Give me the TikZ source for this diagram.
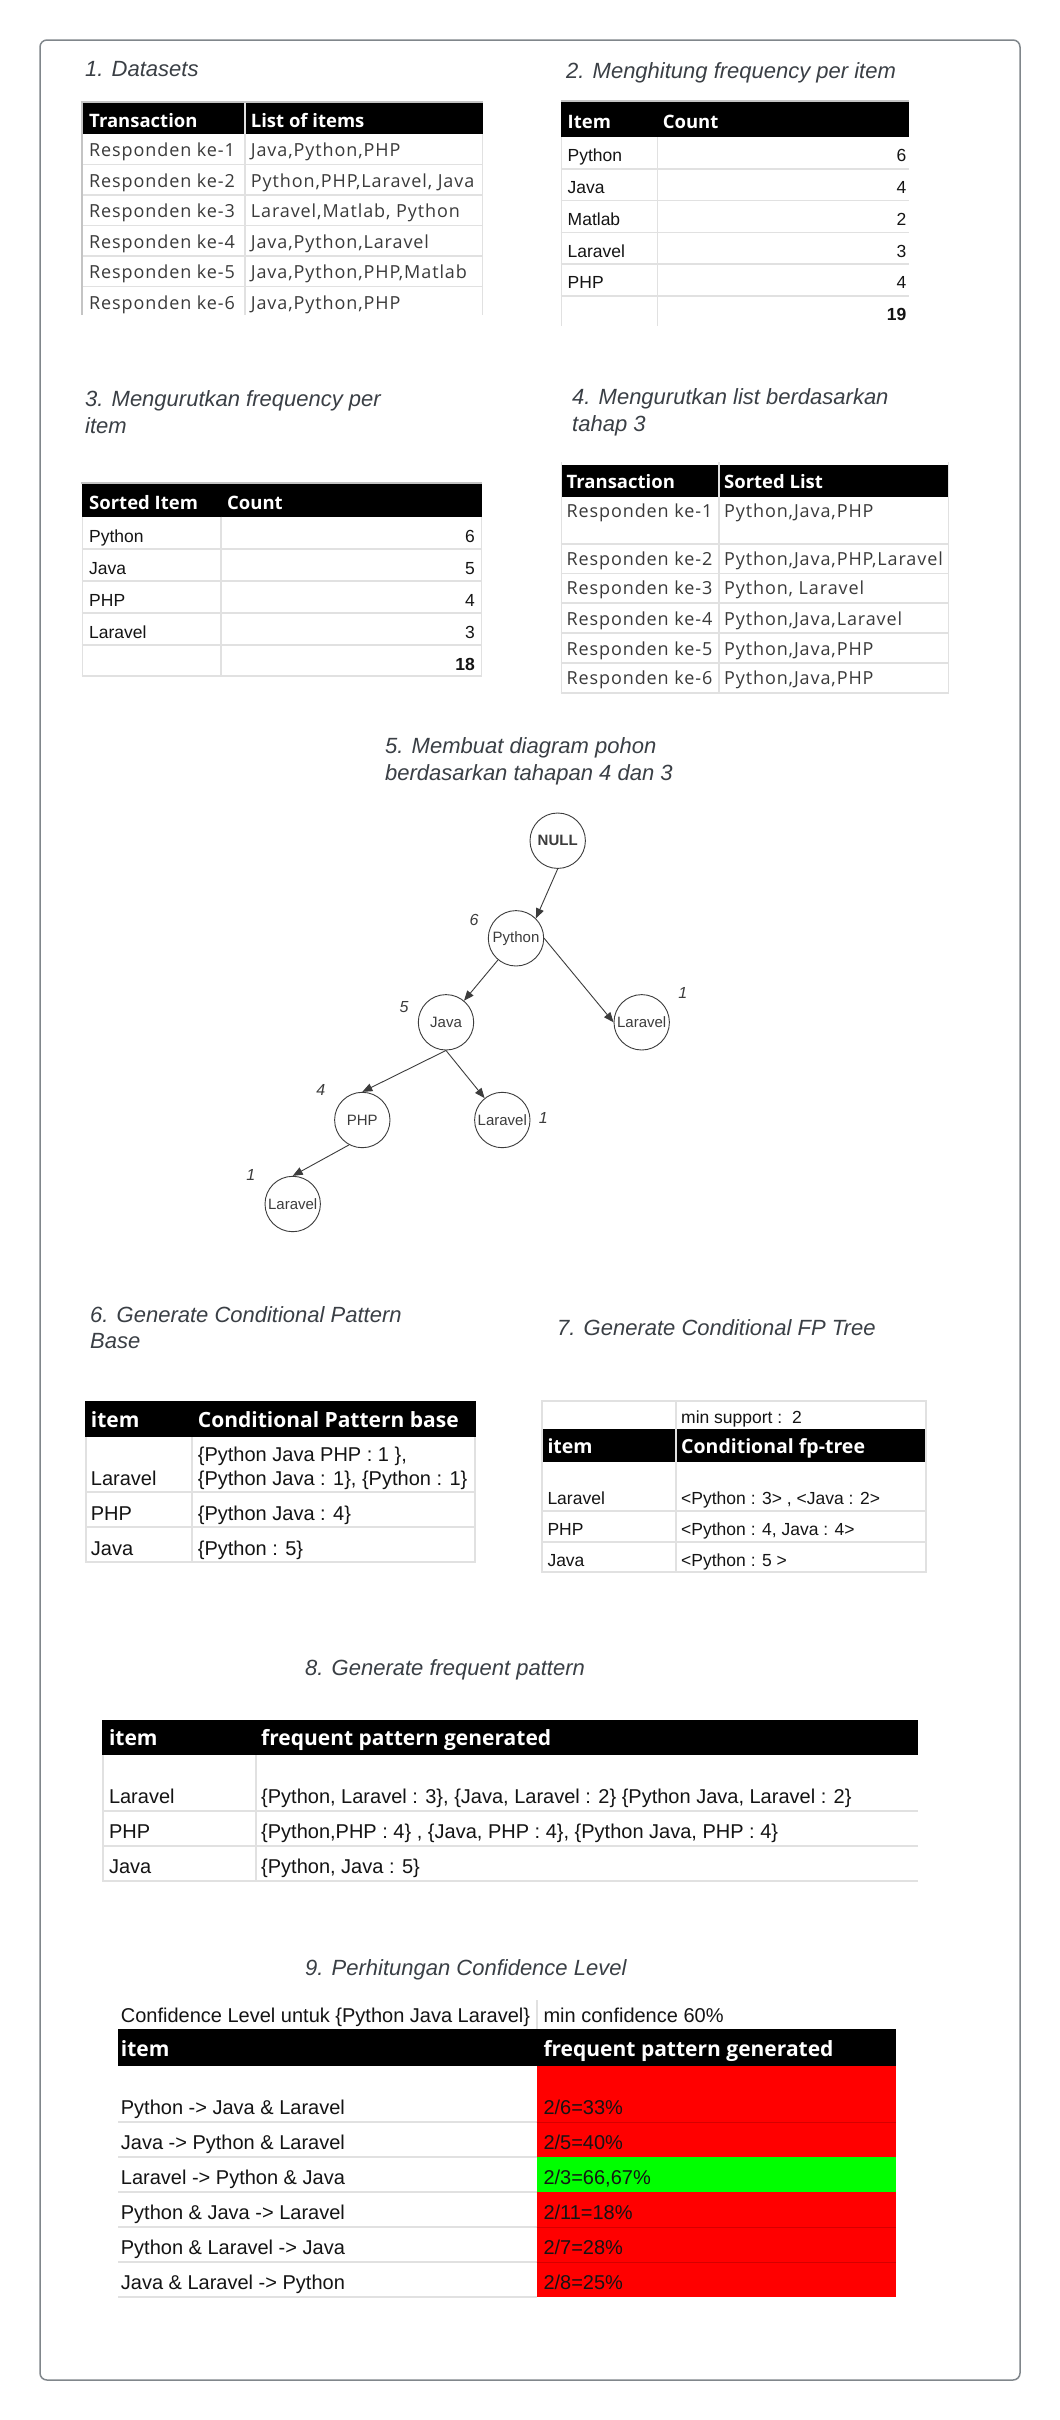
\documentclass[tikz,border=0pt]{standalone}
\usepackage{fontspec}
\setmainfont{Liberation Sans}
\newfontfamily\osans{Open Sans}
\newfontfamily\wsfont[LetterSpace=5]{Open Sans}
\usetikzlibrary{arrows.meta}
\definecolor{ttlc}{HTML}{3A3F45}
\definecolor{gridc}{HTML}{E1E1E1}
\definecolor{edgec}{HTML}{C4C4C4}
\definecolor{framec}{HTML}{80868B}
\definecolor{wsc}{HTML}{3A3A3A}
\definecolor{redc}{HTML}{FF0000}
\definecolor{grnc}{HTML}{00FF00}
\definecolor{redline}{HTML}{D50000}
\definecolor{treec}{HTML}{3C3C3C}
\tikzset{
  ttl/.style={anchor=base west, inner sep=0pt, text=ttlc, font=\fontsize{22}{27}\selectfont\itshape},
  ar/.style={anchor=base west, inner sep=0pt, text=black!92, font=\fontsize{17.5}{20}\selectfont},
  arb/.style={anchor=base west, inner sep=0pt, text=black!92, font=\fontsize{20}{23}\selectfont},
  num/.style={anchor=base east, inner sep=0pt, text=black!92, font=\fontsize{17.5}{20}\selectfont},
  ws/.style={anchor=base west, inner sep=0pt, text=wsc, font=\wsfont\fontsize{18}{20}\selectfont},
  hd/.style={anchor=base west, inner sep=0pt, text=white, font=\osans\bfseries\fontsize{18.5}{20}\selectfont},
  hdl/.style={anchor=base west, inner sep=0pt, text=white, font=\osans\bfseries\fontsize{21}{23}\selectfont},
  gridln/.style={draw=gridc, line width=1.6pt},
  edgeln/.style={draw=edgec, line width=2pt},
  tnode/.style={circle, draw=treec, line width=0.9pt, minimum size=55.4pt, inner sep=0pt, text=treec, font=\fontsize{15}{17}\selectfont},
  tlab/.style={inner sep=0pt, text=treec, font=\fontsize{16}{18}\selectfont\itshape},
  tedge/.style={draw=treec, line width=0.9pt, -{Triangle[length=10pt,width=8pt]}},
}
\begin{document}
\begin{tikzpicture}[x=1pt,y=-1pt]
\useasboundingbox (0,0) rectangle (1060,2420);
\fill[white] (0,0) rectangle (1060,2420);
\draw[framec, line width=1.5pt, rounded corners=7pt] (40,40) rectangle (1020,2380);

% ---------- titles
\node[ttl] (t1) at (85,76.5) {1. Datasets};
\node[ttl] (t2) at (566,78) {2. Menghitung frequency per item};
\node[ttl] (t3a) at (85,406) {3. Mengurutkan frequency per};
\node[ttl] (t3b) at (85,433) {item};
\node[ttl] (t4a) at (572,404) {4. Mengurutkan list berdasarkan};
\node[ttl] (t4b) at (572,431) {tahap 3};
\node[ttl] (t5a) at (385,753) {5. Membuat diagram pohon};
\node[ttl] (t5b) at (385,780) {berdasarkan tahapan 4 dan 3};
\node[ttl] (t6a) at (90,1322) {6. Generate Conditional Pattern};
\node[ttl] (t6b) at (90,1348) {Base};
\node[ttl] (t7) at (557,1335) {7. Generate Conditional FP Tree};
\node[ttl] (t8) at (305,1675) {8. Generate frequent pattern};
\node[ttl] (t9) at (305,1975) {9. Perhitungan Confidence Level};

% ---------- table 1
\fill[black] (81.6,103) rectangle (483,134);
\draw[edgeln] (80.6,102) -- (483,102);
\foreach \y in {164.5,195,225.5,256,286.5} \draw[gridln] (81.6,\y) -- (483,\y);
\draw[gridln] (245,103) -- (245,315);
\draw[gridln] (482.5,134) -- (482.5,315);
\draw[edgeln] (81.6,102) -- (81.6,315);
\node[hd] (a0) at (89,127.5) {Transaction};
\node[hd] (b0) at (250.7,127.5) {List of items};
\node[ws] (a1) at (89,156.5) {Responden ke-1};
\node[ws] (b1) at (250.7,156.5) {Java,Python,PHP};
\node[ws] (a2) at (89,187) {Responden ke-2};
\node[ws] (b2) at (250.7,187) {Python,PHP,Laravel, Java};
\node[ws] (a3) at (89,217.5) {Responden ke-3};
\node[ws] (b3) at (250.7,217.5) {Laravel,Matlab, Python};
\node[ws] (a4) at (89,248) {Responden ke-4};
\node[ws] (b4) at (250.7,248) {Java,Python,Laravel};
\node[ws] (a5) at (89,278.5) {Responden ke-5};
\node[ws] (b5) at (250.7,278.5) {Java,Python,PHP,Matlab};
\node[ws] (a6) at (89,309) {Responden ke-6};
\node[ws] (b6) at (250.7,309) {Java,Python,PHP};

% ---------- table 2
\fill[black] (560.6,102) rectangle (909,137);
\draw[edgeln] (560.6,101) -- (909,101);
\foreach \y in {168.7,200.5,232.3,264,296} \draw[gridln] (560.6,\y) -- (909,\y);
\draw[gridln] (657.5,137) -- (657.5,326);
\draw[gridln] (561.4,137) -- (561.4,326);
\node[hd] (c0) at (567.5,128.6) {Item};
\node[hd] (d0) at (662.6,128.6) {Count};
\node[ar] (c1) at (567.5,161.6) {Python};
\node[num] (d1) at (906.5,161.6) {6};
\node[ar] (c2) at (567.5,193.3) {Java};
\node[num] (d2) at (906.5,193.3) {4};
\node[ar] (c3) at (567.5,225) {Matlab};
\node[num] (d3) at (906.5,225) {2};
\node[ar] (c4) at (567.5,257) {Laravel};
\node[num] (d4) at (906.5,257) {3};
\node[ar] (c5) at (567.5,288.6) {PHP};
\node[num] (d5) at (906.5,288.6) {4};
\node[num, font=\fontsize{17.5}{20}\selectfont\bfseries] (d6) at (906.5,320.6) {19};

% ---------- table 3
\fill[black] (81.6,484) rectangle (482,516.5);
\draw[edgeln] (80.6,483) -- (482,483);
\foreach \y in {548.7,581,613,645,676} \draw[gridln] (81.6,\y) -- (482,\y);
\draw[gridln] (221,516.5) -- (221,676);
\draw[gridln] (481.5,516.5) -- (481.5,676);
\draw[gridln] (82.4,516.5) -- (82.4,676);
\node[hd] (e0) at (89,509) {Sorted Item};
\node[hd] (f0) at (227,509) {Count};
\node[ar] (e1) at (89,542) {Python};
\node[num] (f1) at (475,542) {6};
\node[ar] (e2) at (89,574.2) {Java};
\node[num] (f2) at (475,574.2) {5};
\node[ar] (e3) at (89,606.5) {PHP};
\node[num] (f3) at (475,606.5) {4};
\node[ar] (e4) at (89,638.5) {Laravel};
\node[num] (f4) at (475,638.5) {3};
\node[num, font=\fontsize{17.5}{20}\selectfont\bfseries] (f5) at (475,670.5) {18};

% ---------- table 4
\fill[black] (560.6,465.4) rectangle (949,496.7);
\foreach \y in {543.7,573.6,603,633,662.7,693} \draw[gridln] (560.6,\y) -- (949,\y);
\draw[gridln] (718.8,462) -- (718.8,693);
\draw[gridln] (948.5,462) -- (948.5,693);
\draw[gridln] (561.4,462) -- (561.4,693);
\node[hd] (g0) at (566.4,488.6) {Transaction};
\node[hd] (h0) at (723.9,488.6) {Sorted List};
\node[ws] (g1) at (566.4,517.5) {Responden ke-1};
\node[ws] (h1) at (723.9,517.5) {Python,Java,PHP};
\node[ws] (g2) at (566.4,565) {Responden ke-2};
\node[ws] (h2) at (723.9,565) {Python,Java,PHP,Laravel};
\node[ws] (g3) at (566.4,594.7) {Responden ke-3};
\node[ws] (h3) at (723.9,594.7) {Python, Laravel};
\node[ws] (g4) at (566.4,625) {Responden ke-4};
\node[ws] (h4) at (723.9,625) {Python,Java,Laravel};
\node[ws] (g5) at (566.4,655) {Responden ke-5};
\node[ws] (h5) at (723.9,655) {Python,Java,PHP};
\node[ws] (g6) at (566.4,684.8) {Responden ke-6};
\node[ws] (h6) at (723.9,684.8) {Python,Java,PHP};

% ---------- tree
\node[tnode, font=\fontsize{15}{17}\selectfont\bfseries] (null) at (557.7,840.7) {NULL};
\node[tnode] (py) at (516,938.3) {Python};
\node[tnode] (lr) at (641.7,1022.3) {Laravel};
\node[tnode] (jv) at (446,1022.3) {Java};
\node[tnode] (php) at (362.3,1120) {PHP};
\node[tnode] (lm) at (502.3,1120) {Laravel};
\node[tnode] (lb) at (292.7,1204) {Laravel};
\node[tlab] (n6) at (474,920) {6};
\node[tlab] (n1a) at (682.7,993) {1};
\node[tlab] (n5) at (404,1007) {5};
\node[tlab] (n4) at (320.7,1090) {4};
\node[tlab] (n1b) at (543.3,1118) {1};
\node[tlab] (n1c) at (250.7,1175) {1};
\draw[tedge] (null.south) -- (py.45);
\draw[tedge] (py) -- (jv);
\draw[tedge] (py.east) -- (lr.west);
\draw[tedge] (jv.south) -- (php.north);
\draw[tedge] (jv.south) -- (lm);
\draw[tedge] (php.242) -- (lb.north);

% ---------- table 6
\fill[black] (85,1401) rectangle (476,1437);
\foreach \y in {1492,1527,1562} \draw[gridln] (85,\y) -- (476,\y);
\draw[gridln] (192,1437) -- (192,1562);
\draw[gridln] (85.8,1437) -- (85.8,1562);
\draw[gridln] (475.2,1437) -- (475.2,1562);
\node[hdl] (i0) at (90.7,1427.3) {item};
\node[hdl] (j0) at (197.7,1427.3) {Conditional Pattern base};
\node[arb] (i1) at (90.7,1485) {Laravel};
\node[arb] (j1a) at (197.7,1461.7) {\{Python Java PHP : 1 \},};
\node[arb] (j1b) at (197.7,1485) {\{Python Java : 1\}, \{Python : 1\}};
\node[arb] (i2) at (90.7,1520) {PHP};
\node[arb] (j2) at (197.7,1520) {\{Python Java : 4\}};
\node[arb] (i3) at (90.7,1555.7) {Java};
\node[arb] (j3) at (197.7,1555.7) {\{Python : 5\}};

% ---------- table 7
\fill[black] (541,1429) rectangle (927,1462);
\draw[gridln] (541,1401) -- (927,1401);
\foreach \y in {1511,1542,1572} \draw[gridln] (541,\y) -- (927,\y);
\draw[gridln] (676,1401) -- (676,1572);
\draw[gridln] (541.8,1401) -- (541.8,1572);
\draw[gridln] (926.2,1401) -- (926.2,1572);
\node[ar] (k0) at (681,1423.3) {min support :\ \ 2};
\node[hdl, font=\osans\bfseries\fontsize{19.5}{22}\selectfont] (l0) at (547.3,1453.3) {item};
\node[hdl, font=\osans\bfseries\fontsize{19.5}{22}\selectfont] (m0) at (681,1453.3) {Conditional fp-tree};
\node[ar] (l1) at (547.3,1504) {Laravel};
\node[ar] (m1) at (681,1504) {<Python : 3> , <Java : 2>};
\node[ar] (l2) at (547.3,1535) {PHP};
\node[ar] (m2) at (681,1535) {<Python : 4, Java : 4>};
\node[ar] (l3) at (547.3,1566) {Java};
\node[ar] (m3) at (681,1566) {<Python : 5 >};

% ---------- table 8
\fill[black] (102,1720) rectangle (918,1755);
\foreach \y in {1811,1846,1881} \draw[gridln] (102,\y) -- (918,\y);
\draw[gridln] (256,1755) -- (256,1881);
\draw[gridln] (102.8,1755) -- (102.8,1881);
\node[hdl] (o0) at (108.8,1745) {item};
\node[hdl] (p0) at (261,1745) {frequent pattern generated};
\node[arb] (o1) at (108.8,1803) {Laravel};
\node[arb] (p1) at (261,1803) {\{Python, Laravel : 3\}, \{Java, Laravel : 2\} \{Python Java, Laravel : 2\}};
\node[arb] (o2) at (108.8,1838) {PHP};
\node[arb] (p2) at (261,1838) {\{Python,PHP : 4\} , \{Java, PHP : 4\}, \{Python Java, PHP : 4\}};
\node[arb] (o3) at (108.8,1873) {Java};
\node[arb] (p3) at (261,1873) {\{Python, Java : 5\}};

% ---------- table 9
\fill[black] (118,2029) rectangle (896,2066);
\fill[redc] (536.7,2066) rectangle (896,2297);
\fill[grnc] (536.7,2157) rectangle (896,2192);
\foreach \y in {2122,2157,2192,2227,2262,2297} \draw[gridln] (118,\y) -- (536.7,\y);
\foreach \y in {2122,2227,2262} \draw[redline, line width=1pt] (536.7,\y) -- (896,\y);
\draw[gridln] (536.7,2000) -- (536.7,2029);
\node[arb] (q0) at (120.7,2022.7) {Confidence Level untuk \{Python Java Laravel\}};
\node[arb] (r0) at (543.3,2022.7) {min confidence 60\%};
\node[hdl] (q1) at (120.7,2056.7) {item};
\node[hdl] (r1) at (543.3,2056.7) {frequent pattern generated};
\node[arb] (q2) at (120.7,2114) {Python -> Java \& Laravel};
\node[arb] (r2) at (543.3,2114) {2/6=33\%};
\node[arb] (q3) at (120.7,2149) {Java -> Python \& Laravel};
\node[arb] (r3) at (543.3,2149) {2/5=40\%};
\node[arb] (q4) at (120.7,2184) {Laravel -> Python \& Java};
\node[arb] (r4) at (543.3,2184) {2/3=66,67\%};
\node[arb] (q5) at (120.7,2219) {Python \& Java -> Laravel};
\node[arb] (r5) at (543.3,2219) {2/11=18\%};
\node[arb] (q6) at (120.7,2254) {Python \& Laravel -> Java};
\node[arb] (r6) at (543.3,2254) {2/7=28\%};
\node[arb] (q7) at (120.7,2289.7) {Java \& Laravel -> Python};
\node[arb] (r7) at (543.3,2289.7) {2/8=25\%};
\end{tikzpicture}
\end{document}
